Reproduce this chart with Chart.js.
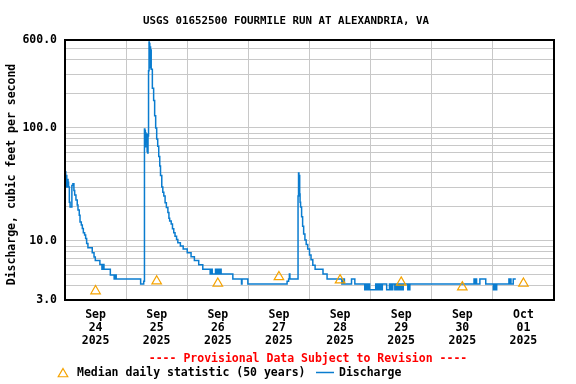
<!DOCTYPE html>
<html>
<head>
<meta charset="utf-8">
<script src="https://cdn.jsdelivr.net/npm/chart.js@4.4.1/dist/chart.umd.min.js"></script>
<style>
  body { margin: 0; background: #fff; }
</style>
</head>
<body>
<canvas id="grafico" width="576" height="384"></canvas>
<script>
const titulo = 'USGS 01652500 FOURMILE RUN AT ALEXANDRIA, VA';
const tituloEixoY = 'Discharge, cubic feet per second';
const aviso = '---- Provisional Data Subject to Revision ----';
const legendaMediana = 'Median daily statistic (50 years)';
const legendaVazao = 'Discharge';

// horas desde 24/09 00:00
const meses = ['Sep', 'Sep', 'Sep', 'Sep', 'Sep', 'Sep', 'Sep', 'Oct'];
const dias = ['24', '25', '26', '27', '28', '29', '30', '01'];
const anos = ['2025', '2025', '2025', '2025', '2025', '2025', '2025', '2025'];
const horasRotulo = [12, 36, 60, 84, 108, 132, 156, 180];
const horasGrade = [0, 12, 24, 36, 48, 60, 72, 84, 96, 108, 120, 132, 144, 156, 168, 180, 192];

const valoresGradeY = [3, 4, 5, 6, 7, 8, 9, 10, 20, 30, 40, 50, 60, 70, 80, 90, 100, 200, 300, 400, 500, 600];
const valoresRotuloY = [3, 10, 100, 600];

const medianaHoras = [12, 36, 60, 84, 108, 132, 156, 180];
const medianaVazao = [3.6, 4.4, 4.2, 4.8, 4.5, 4.3, 3.9, 4.2];

const vazaoHoras = [
    0, 0.3, 0.5, 0.7, 0.9, 1.2, 1.4, 1.7, 2.0, 2.7, 3.1, 3.5, 3.8, 4.3, 4.8, 5.1, 5.6, 5.9, 6.4, 6.8,
    7.2, 7.7, 8.1, 8.5, 9.0, 10.7, 11.4, 11.9, 13.7, 14.5, 14.7, 14.9, 15.1, 15.3, 17.8, 19.3, 19.5, 19.7, 19.9, 20.1,
    29.7, 30.9,
    31.2, 31.35, 31.45, 31.55, 31.65, 31.8, 31.95, 32.1, 32.25, 32.45, 32.6, 32.8, 33.0, 33.1, 33.2, 33.3, 33.45, 33.6, 33.7, 33.85,
    34.3, 34.8, 35.2, 35.6, 36.0, 36.4, 36.8, 37.2, 37.5, 38.0, 38.4, 38.8, 39.3, 39.8, 40.4, 40.8, 41.1, 41.7, 42.2, 42.7,
    43.2, 43.8, 44.3, 45.3, 46.4, 48.0, 49.5, 50.8, 52.5, 54.1,
    57.0, 57.2, 57.4, 57.6, 57.8, 59.1, 59.6, 59.8, 60.0, 60.2, 60.4, 60.6, 60.8, 61.0, 61.3, 65.9, 69.3, 69.5, 71.8,
    87.2, 87.8, 88.1, 88.3,
    91.5, 91.7, 91.85, 92.0, 92.15, 92.3, 92.5, 92.9, 93.3, 93.7, 94.2, 94.7, 95.3, 96.0, 96.6, 97.3, 98.2, 101.3, 102.9,
    108.7, 108.9, 109.2, 109.4, 109.7, 112.5, 113.8,
    117.7, 117.9, 118.1, 118.3, 118.5, 118.7, 118.9, 119.2, 119.6, 122.0, 122.4, 122.6, 122.8, 123.0, 123.2, 123.5, 123.7,
    124.0, 124.2, 124.6, 126.3, 127.4, 127.6, 127.8, 128.0, 128.2, 128.5, 128.7, 129.5, 130.0, 130.3, 130.8, 131.0,
    131.2, 131.5, 131.7, 132.0, 132.2, 132.5, 132.8, 134.6, 134.9, 135.1, 135.4,
    160.6, 160.8, 161.0, 161.2, 161.4, 161.6, 162.9, 165.2, 168.2, 168.4, 168.6, 168.8, 169.0, 169.5,
    174.3, 174.5, 174.7, 175.1, 176.0, 177.0
];
const vazaoCfs = [
    41, 32, 38, 30, 35, 33, 30, 22, 20, 31, 32, 28, 25.5, 23, 20.8, 18.8, 16.9, 14.7, 13.8, 12.9,
    11.8, 11.3, 10.5, 9.5, 8.7, 7.85, 7.2, 6.7, 6.2, 5.6, 6.2, 5.6, 6.2, 5.6, 5.0, 4.6, 5.0, 4.6, 5.0, 4.6,
    4.15, 4.4,
    98, 72, 95, 68, 90, 75, 80, 88, 62, 60, 85, 320, 575, 480, 560, 420, 520, 340, 490, 330,
    225, 175, 128, 100, 80, 69, 56, 46, 38, 30, 27, 25, 21.8, 19.8, 17.8, 15.9, 15, 14.1, 12.8, 11.8,
    11.0, 10.3, 9.65, 9.0, 8.5, 7.85, 7.25, 6.7, 6.15, 5.6,
    5.1, 5.6, 5.1, 5.6, 5.1, 5.6, 5.1, 5.6, 5.1, 5.6, 5.1, 5.6, 5.1, 5.6, 5.1, 4.6, 4.15, 4.6, 4.15,
    4.4, 4.6, 5.1, 4.6,
    25, 40, 30, 38, 26, 22, 20, 16.4, 13.5, 11.5, 10.2, 9.3, 8.5, 7.5, 6.8, 6.1, 5.6, 5.1, 4.6,
    4.15, 4.6, 4.15, 4.6, 4.15, 4.6, 4.15,
    3.7, 4.15, 3.7, 4.15, 3.7, 4.15, 3.7, 4.15, 3.7, 4.15, 3.7, 4.15, 3.7, 4.15, 3.7, 4.15, 3.7,
    4.15, 3.7, 4.15, 3.7, 4.15, 3.7, 4.15, 3.7, 4.15, 3.7, 4.15, 3.7, 4.15, 3.7, 4.15, 3.7,
    4.15, 3.7, 4.15, 3.7, 4.15, 3.7, 4.15, 3.7, 4.15, 3.7, 4.15,
    4.6, 4.15, 4.6, 4.15, 4.6, 4.15, 4.6, 4.15, 3.7, 4.15, 3.7, 4.15, 3.7, 4.15,
    4.6, 4.15, 4.6, 4.15, 4.6, 4.6
];

const fonteMono = '"DejaVu Sans Mono", monospace';
const corGrade = '#c8c8c8';
const corVazao = '#0a7ccf';
const corMediana = '#f5a300';

function desenharTriangulo(ctx, x, y, r) {
    ctx.beginPath();
    ctx.moveTo(x, y - r);
    ctx.lineTo(x + r * Math.cos(Math.PI / 6), y + r / 2);
    ctx.lineTo(x - r * Math.cos(Math.PI / 6), y + r / 2);
    ctx.closePath();
    ctx.stroke();
}

const textosPlugin = {
    id: 'textos',
    afterDraw(chart) {
        const ctx = chart.ctx;
        const area = chart.chartArea;
        ctx.save();

        // moldura
        ctx.strokeStyle = '#000';
        ctx.lineWidth = 2;
        ctx.strokeRect(area.left, area.top, area.right - area.left, area.bottom - area.top);

        ctx.fillStyle = '#000';
        ctx.textBaseline = 'middle';

        ctx.font = 'bold 10.8px ' + fonteMono;
        ctx.textAlign = 'center';
        ctx.fillText(titulo, 286, 21);

        ctx.save();
        ctx.translate(12, 174.5);
        ctx.rotate(-Math.PI / 2);
        ctx.font = 'bold 11.5px ' + fonteMono;
        ctx.fillText(tituloEixoY, 0, 0);
        ctx.restore();

        ctx.font = 'bold 11.5px ' + fonteMono;
        ctx.fillStyle = '#ff0000';
        ctx.fillText(aviso, 308, 359.5);

        // legenda
        ctx.strokeStyle = corMediana;
        ctx.lineWidth = 1.2;
        desenharTriangulo(ctx, 63, 374, 5.5);
        ctx.textAlign = 'left';
        ctx.fillStyle = '#000';
        ctx.fillText(legendaMediana, 77, 373);
        ctx.strokeStyle = corVazao;
        ctx.lineWidth = 1.5;
        ctx.beginPath();
        ctx.moveTo(316, 372.5);
        ctx.lineTo(334, 372.5);
        ctx.stroke();
        ctx.fillText(legendaVazao, 339, 373);

        ctx.restore();
    }
};

const ctx = document.getElementById('grafico').getContext('2d');
window.graficoVazao = new Chart(ctx, {
    type: 'line',
    data: {
        datasets: [
            {
                label: legendaMediana,
                data: medianaHoras.map((h, i) => ({ x: h, y: medianaVazao[i] })),
                showLine: false,
                pointStyle: 'triangle',
                pointRadius: 5.5,
                pointBorderWidth: 1.2,
                borderColor: corMediana,
                backgroundColor: 'rgba(0,0,0,0)'
            },
            {
                label: legendaVazao,
                data: vazaoHoras.map((h, i) => ({ x: h, y: vazaoCfs[i] })),
                stepped: true,
                borderColor: corVazao,
                borderWidth: 1.5,
                pointRadius: 0,
                fill: false
            }
        ]
    },
    options: {
        responsive: false,
        animation: false,
        layout: { padding: { top: 40, right: 22, left: 0, bottom: 0 } },
        plugins: {
            legend: { display: false },
            tooltip: { enabled: false }
        },
        scales: {
            x: {
                type: 'linear',
                min: 0,
                max: 192,
                afterBuildTicks: (scale) => {
                    scale.ticks = horasGrade.map(v => ({ value: v }));
                },
                afterFit: (scale) => { scale.height = 84; },
                border: { display: false },
                grid: {
                    drawTicks: false,
                    color: (c) => (c.tick && horasRotulo.includes(c.tick.value)) ? 'rgba(0,0,0,0)' : corGrade,
                    lineWidth: 1
                },
                ticks: {
                    autoSkip: false,
                    maxRotation: 0,
                    padding: 9,
                    color: '#000',
                    font: { family: fonteMono, weight: 'bold', size: 11.5, lineHeight: 13 / 11.5 },
                    callback: (value) => {
                        const i = horasRotulo.indexOf(value);
                        return i >= 0 ? [meses[i], dias[i], anos[i]] : '';
                    }
                }
            },
            y: {
                type: 'logarithmic',
                min: 3,
                max: 600,
                afterBuildTicks: (scale) => {
                    scale.ticks = valoresGradeY.map(v => ({ value: v }));
                },
                afterFit: (scale) => { scale.width = 65; },
                border: { display: false },
                grid: { drawTicks: false, color: corGrade, lineWidth: 1 },
                ticks: {
                    autoSkip: false,
                    padding: 8,
                    color: '#000',
                    font: { family: fonteMono, weight: 'bold', size: 11.5 },
                    callback: (value) => valoresRotuloY.includes(value) ? value.toFixed(1) : ''
                }
            }
        }
    },
    plugins: [textosPlugin]
});
</script>
</body>
</html>
